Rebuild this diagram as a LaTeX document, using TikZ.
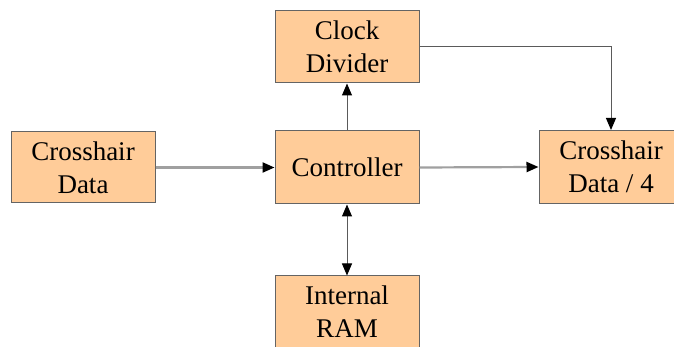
\documentclass[tikz,border=0pt]{standalone}
\usepackage{fontspec}
\setmainfont{Liberation Serif}
\usetikzlibrary{arrows.meta}
\definecolor{boxfill}{RGB}{255,204,153}
\definecolor{boxline}{RGB}{100,100,100}
\definecolor{lightline}{RGB}{160,160,160}
\definecolor{darkline}{RGB}{90,90,90}
\tikzset{
  blockbox/.style={draw=boxline, line width=1pt, fill=boxfill, minimum width=144pt, minimum height=72pt, inner sep=0pt, align=center, font=\fontsize{27}{33}\selectfont, text=black},
  tipstyle/.style={-{Triangle[length=12pt,width=10pt,color=black]}},
  lightconn/.style={tipstyle, draw=lightline, line width=2.2pt},
  darkconn/.style={tipstyle, draw=darkline, line width=1pt},
}
\begin{document}
\begin{tikzpicture}[x=1pt,y=1pt]
\useasboundingbox (0,0) rectangle (674,347);
\clip (0,0) rectangle (674,347);
\fill[white] (0,0) rectangle (674,347);
\node[blockbox] (clock) at (347,300) {Clock\\Divider};
\node[blockbox, minimum height=71pt] (cdata) at (83,179.5) {Crosshair\\Data};
\node[blockbox, minimum height=73pt] (ctrl) at (347,179.5) {Controller};
\node[blockbox, minimum height=73pt] (cd4) at (611,180) {Crosshair\\Data / 4};
\node[blockbox] (ram) at (347,35) {Internal\\RAM};
\coordinate (corner) at (cd4.north |- clock.east);
\draw[lightconn] (cdata.east) -- (ctrl.west);
\draw[lightconn] (ctrl.east) -- (cd4.west);
\draw[darkconn] (ctrl.north) -- (clock.south);
\draw[darkconn] (clock.east) -- (corner) -- (cd4.north);
\draw[darkconn, {Triangle[length=12pt,width=10pt,color=black]}-{Triangle[length=12pt,width=10pt,color=black]}] (ctrl.south) -- (ram.north);
\end{tikzpicture}
\end{document}
